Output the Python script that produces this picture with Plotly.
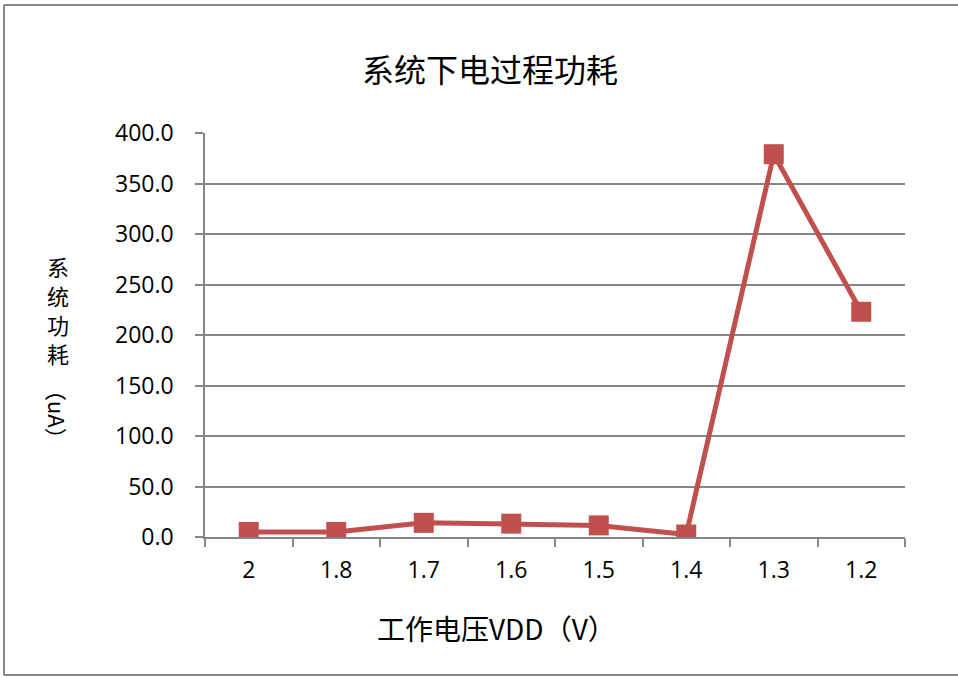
import plotly.graph_objects as go

categories = ["2", "1.8", "1.7", "1.6", "1.5", "1.4", "1.3", "1.2"]
power_uA = [5.0, 5.0, 14.0, 13.2, 11.5, 2.5, 379.0, 223.0]
y_ticks = [0, 50, 100, 150, 200, 250, 300, 350, 400]

title_text = "系统下电过程功耗"
x_title = "工作电压VDD（V）"
y_title_chars = ["系", "统", "功", "耗"]
y_title_unit = "（uA）"

W, H = 958, 678
L, R, T, B = 205, 53, 133, 141
pw, ph = W - L - R, H - T - B

def px(x):
    return (x - L) / pw

def py(y):
    return (H - B - y) / ph

fig = go.Figure()
fig.add_trace(go.Scatter(
    x=categories, y=power_uA, mode="lines+markers",
    line=dict(color="#C0504D", width=5),
    marker=dict(symbol="square", size=20, color="#C0504D"),
    showlegend=False,
))

cjk = "Noto Sans CJK SC"
num_font = "Open Sans"

annotations = [
    dict(text=title_text, xref="paper", yref="paper", x=px(490), y=py(68),
         showarrow=False, font=dict(family=cjk, size=32, color="black"),
         xanchor="center", yanchor="middle"),
    dict(text=x_title, xref="paper", yref="paper", x=px(496), y=py(628),
         showarrow=False, font=dict(family=cjk, size=28, color="black"),
         xanchor="center", yanchor="middle"),
    dict(text=y_title_unit, xref="paper", yref="paper", x=px(58), y=py(414),
         showarrow=False, textangle=90,
         font=dict(family=cjk, size=22, color="black"),
         xanchor="center", yanchor="middle"),
]
for i, ch in enumerate(y_title_chars):
    annotations.append(dict(
        text=ch, xref="paper", yref="paper", x=px(58), y=py(266 + 29 * i),
        showarrow=False, font=dict(family=cjk, size=22, color="black"),
        xanchor="center", yanchor="middle"))

border = dict(color="#888888", width=2)
shapes = [
    dict(type="line", xref="paper", yref="paper",
         x0=px(4), x1=px(1000), y0=py(5), y1=py(5), line=border),
    dict(type="line", xref="paper", yref="paper",
         x0=px(4), x1=px(1000), y0=py(675), y1=py(675), line=border),
    dict(type="line", xref="paper", yref="paper",
         x0=px(4), x1=px(4), y0=py(675), y1=py(5), line=border),
]

fig.update_layout(
    width=W, height=H,
    margin=dict(l=L, r=R, t=T, b=B),
    paper_bgcolor="white", plot_bgcolor="white",
    xaxis=dict(
        type="category", tickson="boundaries", ticks="outside", ticklen=8,
        tickcolor="#868686", tickwidth=1.5,
        showline=True, linecolor="#868686", linewidth=1.5,
        showgrid=False, tickfont=dict(family=num_font, size=23, color="black"),
        ticklabelstandoff=12,
        range=[-0.5, 7.5],
    ),
    yaxis=dict(
        range=[0, 400], tickvals=y_ticks, tickformat=".1f",
        ticks="outside", ticklen=8, tickcolor="#868686", tickwidth=1.5,
        showline=True, linecolor="#868686", linewidth=1.5,
        showgrid=True, gridcolor="#868686", gridwidth=1.5,
        zeroline=False, ticklabelstandoff=17,
        tickfont=dict(family=num_font, size=23, color="black"),
    ),
    shapes=shapes,
    annotations=annotations,
)

fig.write_html("out.html", config={"displayModeBar": False},
               post_script="document.body.style.margin='0';")
